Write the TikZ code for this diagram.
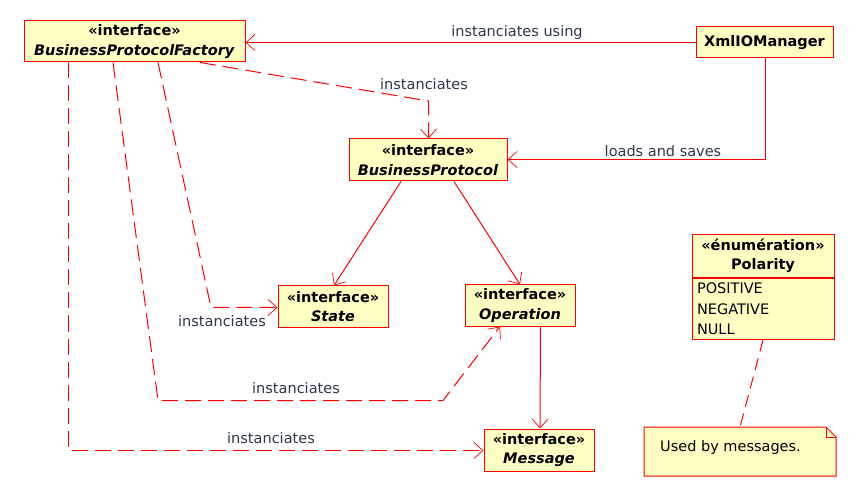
\documentclass[tikz,border=0pt]{standalone}
\usepackage{fontspec}
\setmainfont{DejaVu Sans}
\usetikzlibrary{arrows.meta}
\definecolor{boxfill}{RGB}{255,255,196}
\definecolor{linered}{RGB}{255,0,0}
\definecolor{labelgray}{RGB}{45,55,75}
\tikzset{
  umlbox/.style={draw=linered, fill=boxfill, line width=1pt, inner sep=0pt, align=center, font=\fontsize{14.5}{19.5}\selectfont\bfseries},
  conn/.style={draw=linered, line width=1pt, -{Straight Barb[length=9pt,width=16pt,line width=0.7pt]}},
  dconn/.style={conn, dash pattern=on 16pt off 7pt},
  lbl/.style={text=labelgray, font=\fontsize{14.5}{16}\selectfont, inner sep=0pt},
}
\begin{document}
\begin{tikzpicture}[x=1pt,y=-1pt]
\useasboundingbox (0,0) rectangle (860,497);
% boxes
\node[umlbox, minimum width=221pt, minimum height=41pt] (bpf) at (134.5,41.5) {«interface»\\\textit{BusinessProtocolFactory}};
\node[umlbox, minimum width=137pt, minimum height=31pt] (xml) at (764.5,42.5) {XmlIOManager};
\node[umlbox, minimum width=158pt, minimum height=42pt] (bp) at (428,160) {«interface»\\\textit{BusinessProtocol}};
\node[umlbox, minimum width=110pt, minimum height=41pt] (state) at (333,306.5) {«interface»\\\textit{State}};
\node[umlbox, minimum width=110pt, minimum height=41pt] (op) at (520,305.5) {«interface»\\\textit{Operation}};
\node[umlbox, minimum width=110pt, minimum height=42pt] (msg) at (539,450) {«interface»\\\textit{Message}};
% enumeration
\node[umlbox, minimum width=142pt, minimum height=43pt, anchor=north] (polh) at (763,234) {«énumération»\\Polarity};
\node[umlbox, minimum width=142pt, minimum height=61pt, anchor=north, align=left, font=\fontsize{14.5}{20.5}\selectfont, text width=132pt] (polb) at (polh.south) {POSITIVE\\NEGATIVE\\NULL};
% note
\coordinate (n1) at (644,427);
\coordinate (n2) at (826,427);
\coordinate (n3) at (836,437);
\coordinate (n4) at (836,476);
\coordinate (n5) at (644,476);
\draw[draw=linered, fill=boxfill, line width=1pt] (n1) -- (n2) -- (n3) -- (n4) -- (n5) -- cycle;
\draw[draw=linered, line width=1pt] (n2) -- (826,437) -- (n3);
\node[lbl, text=black, anchor=west] (note) at (660,447) {Used by messages.};
% connectors
\draw[conn] (xml.west) -- (bpf.east |- xml.west);
\node[lbl] (l1) at (517,33) {instanciates using};
\coordinate (c1) at (765.5,159.5);
\draw[conn] ([xshift=1pt]xml.south) -- (c1) -- (bp.east |- c1);
\node[lbl] (l2) at (663,151) {loads and saves};
\coordinate (c2) at (428.5,101);
\draw[dconn] ([xshift=65.5pt]bpf.south) -- (c2) -- ([xshift=0.5pt]bp.north);
\node[lbl] (l3) at (424,84) {instanciates};
\draw[conn] ([xshift=-27pt]bp.south) -- ([xshift=1pt]state.north);
\draw[conn] ([xshift=26pt]bp.south) -- (op.north);
\draw[conn] ([xshift=20.5pt]op.south) -- ([xshift=1pt]msg.north);
\coordinate (c3) at (211,307.5);
\draw[dconn] ([xshift=23.5pt]bpf.south) -- (c3) -- (state.west |- c3);
\node[lbl] (l4) at (222,321) {instanciates};
\coordinate (c4) at (158,400.5);
\coordinate (c5) at (443,400.5);
\draw[dconn] ([xshift=-21.5pt]bpf.south) -- (c4) -- (c5) -- ([xshift=-20pt]op.south);
\node[lbl] (l5) at (296,388) {instanciates};
\coordinate (c6) at (68.5,450.5);
\draw[dconn] ([xshift=-66pt]bpf.south) -- (c6) -- (msg.west |- c6);
\node[lbl] (l6) at (271,438) {instanciates};
\draw[draw=linered, line width=1pt, dash pattern=on 12pt off 7pt] ([xshift=0pt]polb.south) -- (740,427);
\end{tikzpicture}
\end{document}
